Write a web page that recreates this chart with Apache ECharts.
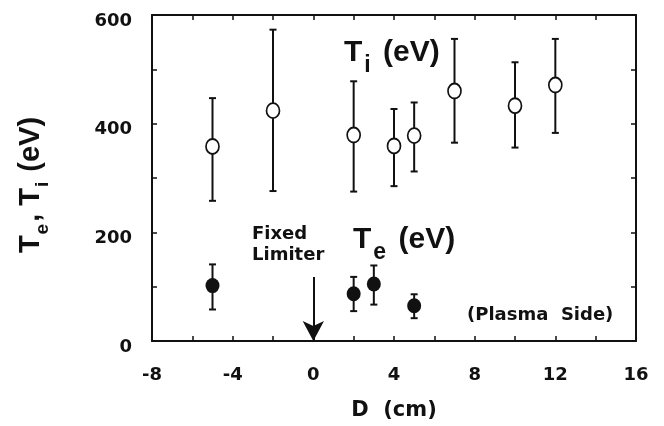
<!DOCTYPE html>
<html>
<head>
<meta charset="utf-8">
<script src="https://cdn.jsdelivr.net/npm/echarts@6/dist/echarts.min.js"></script>
<style>
  html, body { margin: 0; padding: 0; background: #fff; }
  #chart { width: 664px; height: 426px; }
</style>
</head>
<body>
<div id="chart"></div>
<script>
// data
const tiDistance = [-5, -2, 2, 4, 5, 7, 10, 12]
const tiValue = [358, 424, 379, 359, 378, 460, 433, 471]
const tiLow = [258, 276, 275, 285, 312, 365, 356, 383]
const tiHigh = [447, 573, 478, 427, 439, 556, 513, 556]

const teDistance = [-5, 2, 3, 5]
const teValue = [102, 87, 105, 65]
const teLow = [58, 55, 67, 42]
const teHigh = [141, 118, 139, 86]

const xTicks = [-8, -4, 0, 4, 8, 12, 16]
const yTicks = [0, 200, 400, 600]
const limiterPos = 0
const arrowTop = 118

const tickFont = 'DejaVu Sans'
const bigFont = 'Liberation Sans'

function errorBars(xs, lo, hi) {
    return xs.map((x, i) => [x, lo[i], hi[i]])
}

function renderErrorBar(params, api) {
    const top = api.coord([api.value(0), api.value(2)])
    const bot = api.coord([api.value(0), api.value(1)])
    const cap = 3.5
    const style = { stroke: '#111', lineWidth: 2 }
    return {
        type: 'group',
        children: [
            { type: 'line', shape: { x1: top[0], y1: top[1], x2: bot[0], y2: bot[1] }, style: style },
            { type: 'line', shape: { x1: top[0] - cap, y1: top[1], x2: top[0] + cap, y2: top[1] }, style: style },
            { type: 'line', shape: { x1: bot[0] - cap, y1: bot[1], x2: bot[0] + cap, y2: bot[1] }, style: style }
        ]
    }
}

const axisLine = { show: true, onZero: false, lineStyle: { color: '#111', width: 2 } }
const axisTick = { show: true, inside: true, length: 5, lineStyle: { color: '#111', width: 1.5 } }

const chart = echarts.init(document.getElementById('chart'), null, { renderer: 'canvas' })
chart.setOption({
    backgroundColor: '#fff',
    animation: false,
    grid: { left: 152, right: 28, top: 15, bottom: 81 },
    xAxis: [
        {
            type: 'value',
            min: -8,
            max: 16,
            interval: 2,
            position: 'bottom',
            axisLine: axisLine,
            axisTick: axisTick,
            splitLine: { show: false },
            axisLabel: {
                margin: 25,
                color: '#111',
                fontFamily: tickFont,
                fontWeight: 'bold',
                fontSize: 18,
                formatter: v => xTicks.includes(v) ? String(v) : ''
            },
            name: 'D  (cm)',
            nameLocation: 'middle',
            nameGap: 59,
            nameTextStyle: { color: '#111', fontFamily: tickFont, fontWeight: 'bold', fontSize: 21 }
        },
        {
            type: 'value',
            min: -8,
            max: 16,
            interval: 2,
            position: 'top',
            axisLine: axisLine,
            axisTick: axisTick,
            splitLine: { show: false },
            axisLabel: { show: false }
        }
    ],
    yAxis: [
        {
            type: 'value',
            min: 0,
            max: 600,
            interval: 100,
            position: 'left',
            axisLine: axisLine,
            axisTick: axisTick,
            splitLine: { show: false },
            axisLabel: {
                margin: 20,
                color: '#111',
                fontFamily: tickFont,
                fontWeight: 'bold',
                fontSize: 18,
                verticalAlign: 'top',
                lineHeight: 12,
                formatter: v => yTicks.includes(v) ? String(v) : ''
            },
            name: '{t|T}{s|e}{t|, T}{s|i}{t| (eV)}',
            nameLocation: 'middle',
            nameRotate: 90,
            nameGap: 100,
            nameTextStyle: {
                padding: [0, 14, 0, 0],
                rich: {
                    t: { fontFamily: bigFont, fontWeight: 'bold', fontSize: 29, color: '#111', lineHeight: 42 },
                    s: { fontFamily: bigFont, fontWeight: 'bold', fontSize: 19, color: '#111', lineHeight: 14, verticalAlign: 'bottom', padding: [0, 2, 0, 1] }
                }
            }
        },
        {
            type: 'value',
            min: 0,
            max: 600,
            interval: 100,
            position: 'right',
            axisLine: axisLine,
            axisTick: axisTick,
            splitLine: { show: false },
            axisLabel: { show: false }
        }
    ],
    series: [
        {
            name: 'Ti error',
            type: 'custom',
            renderItem: renderErrorBar,
            data: errorBars(tiDistance, tiLow, tiHigh),
            z: 2
        },
        {
            name: 'Te error',
            type: 'custom',
            renderItem: renderErrorBar,
            data: errorBars(teDistance, teLow, teHigh),
            z: 2
        },
        {
            name: 'Ti',
            type: 'scatter',
            data: tiDistance.map((x, i) => [x, tiValue[i]]),
            symbol: 'circle',
            symbolSize: [13, 15],
            itemStyle: { color: '#fff', borderColor: '#111', borderWidth: 1.8, opacity: 1 },
            z: 3
        },
        {
            name: 'Te',
            type: 'scatter',
            data: teDistance.map((x, i) => [x, teValue[i]]),
            symbol: 'circle',
            symbolSize: [14, 15],
            itemStyle: { color: '#111', opacity: 1 },
            z: 3,
            markLine: {
                silent: true,
                symbol: ['none', 'arrow'],
                symbolSize: [16, 20],
                label: { show: false },
                lineStyle: { color: '#111', width: 2, type: 'solid' },
                data: [[{ coord: [limiterPos, arrowTop] }, { coord: [limiterPos, 0] }]]
            }
        }
    ],
    graphic: [
        {
            type: 'text',
            x: 344,
            y: 53,
            style: {
                text: '{t|T}{s|i}{t| (eV)}',
                verticalAlign: 'middle',
                rich: {
                    t: { fontFamily: bigFont, fontWeight: 'bold', fontSize: 30, fill: '#111', lineHeight: 48 },
                    s: { fontFamily: bigFont, fontWeight: 'bold', fontSize: 23, fill: '#111', lineHeight: 16, verticalAlign: 'bottom', padding: [0, 4, 0, 2] }
                }
            }
        },
        {
            type: 'text',
            x: 353,
            y: 240,
            style: {
                text: '{t|T}{s|e}{t| (eV)}',
                verticalAlign: 'middle',
                rich: {
                    t: { fontFamily: bigFont, fontWeight: 'bold', fontSize: 30, fill: '#111', lineHeight: 48 },
                    s: { fontFamily: bigFont, fontWeight: 'bold', fontSize: 23, fill: '#111', lineHeight: 14, verticalAlign: 'bottom', padding: [0, 4, 0, 2] }
                }
            }
        },
        {
            type: 'text',
            x: 252,
            y: 224,
            style: {
                text: 'Fixed\nLimiter',
                fontFamily: tickFont,
                fontWeight: 'bold',
                fontSize: 18,
                lineHeight: 21,
                fill: '#111',
                verticalAlign: 'top'
            }
        },
        {
            type: 'text',
            x: 467,
            y: 315,
            style: {
                text: '(Plasma  Side)',
                fontFamily: tickFont,
                fontWeight: 'bold',
                fontSize: 18,
                fill: '#111',
                verticalAlign: 'middle'
            }
        }
    ]
})
</script>
</body>
</html>
